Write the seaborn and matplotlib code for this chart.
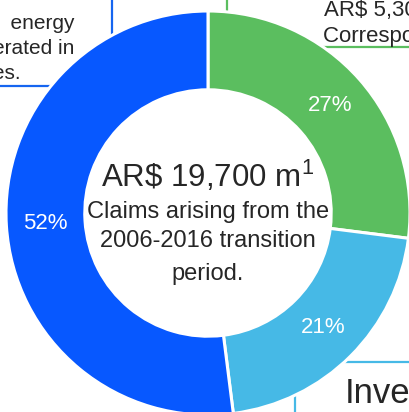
import seaborn as sns
import matplotlib.pyplot as plt
import numpy as np
from matplotlib.patches import Rectangle

# data
shares = [27, 21, 52]
share_labels = ['27%', '21%', '52%']
colors = sns.color_palette(['#5BBE5F', '#46B9E6', '#0758FF'])

center_lines = [r'AR\$ 19,700 m$^{1}$', 'Claims arising from the', '2006-2016 transition', 'period.']
left_box_lines = ['Unpaid   energy', 'generated in', 'previous phases.']
green_box_lines = ['AR\\$ 5,300 m', 'Corresponding to']
bottom_box_text = 'Investment'

sns.set_style('white')
plt.rcParams['font.family'] = ['Liberation Sans', 'DejaVu Sans']
plt.rcParams['mathtext.fontset'] = 'custom'
plt.rcParams['mathtext.rm'] = 'Liberation Sans'
plt.rcParams['mathtext.it'] = 'Liberation Sans'

W, H = 410, 412
def iy(y):
    # image row -> data y
    return H - y

fig = plt.figure(figsize=(W / 100, H / 100), dpi=100)
ax = fig.add_axes([0, 0, 1, 1])

cx, cy, R = 208, iy(213), 202

# callout boxes sitting behind the ring
ax.add_patch(Rectangle((-20, iy(86)), 132, 120, fill=False, ec='#1565F0', lw=1.6, zorder=0.5))
ax.add_patch(Rectangle((227, iy(47)), 220, 90, fill=False, ec=colors[0], lw=1.6, zorder=0.5))
ax.add_patch(Rectangle((295, iy(460)), 220, 98, fill=False, ec=colors[1], lw=1.6, zorder=0.5))

wedges, texts = ax.pie(shares, colors=colors, startangle=90, counterclock=False,
                       radius=R, center=(cx, cy), frame=True,
                       wedgeprops=dict(width=R * 0.39, edgecolor='white', linewidth=2.2))
ax.set_xlim(0, W)
ax.set_ylim(0, H)
ax.axis('off')

# percentage labels at the middle of each wedge
ang = 90.0
for s, lab in zip(shares, share_labels):
    mid = np.deg2rad(ang - s * 3.6 / 2)
    ang -= s * 3.6
    ax.text(cx + 0.805 * R * np.cos(mid), cy + 0.805 * R * np.sin(mid), lab,
            color='white', fontsize=16, ha='center', va='center')

# centre text
ax.text(cx, iy(187), center_lines[0], fontsize=22.5, ha='center', va='baseline')
ax.text(cx, iy(218), center_lines[1], fontsize=17, ha='center', va='baseline')
ax.text(cx, iy(247), center_lines[2], fontsize=17, ha='center', va='baseline')
ax.text(cx, iy(280), center_lines[3], fontsize=17, ha='center', va='baseline')

# box texts (partly outside the canvas)
for y, x, line in zip([29, 54, 79], [75, 74, 21], left_box_lines):
    ax.text(x, iy(y), line, fontsize=15, ha='right', va='baseline')
ax.text(324, iy(16), green_box_lines[0], fontsize=16, ha='left', va='baseline')
ax.text(323, iy(42), green_box_lines[1], fontsize=16, ha='left', va='baseline')
ax.text(345, iy(403), bottom_box_text, fontsize=25, ha='left', va='baseline')

fig.savefig('out.png', dpi=100)
